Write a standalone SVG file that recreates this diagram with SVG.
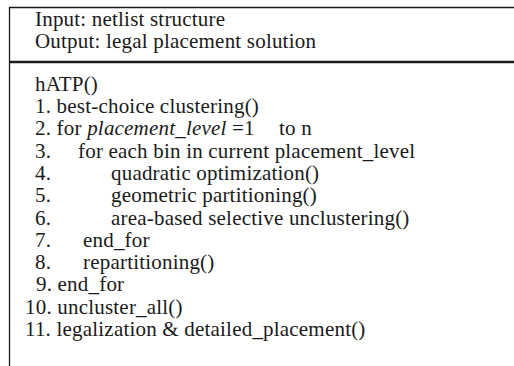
<svg xmlns="http://www.w3.org/2000/svg" width="514" height="366" viewBox="0 0 514 366">
<style>
text{font-family:"Liberation Serif","Times New Roman",serif;font-size:21px;letter-spacing:0.2px;fill:#1a1a1a}
.it{font-style:italic}
.frame{stroke:#1a1a1a;fill:none;stroke-width:1.3}
.rule{stroke:#1a1a1a;stroke-width:2.6}
</style>
<rect width="514" height="366" fill="#ffffff"/>
<g id="frame">
<path class="frame" d="M514 7.5H9.5V366"/>
<line class="rule" x1="9.5" y1="62" x2="514" y2="62"/>
</g>
<g id="header">
<text x="35" y="26">Input: netlist structure</text>
<text x="35" y="48">Output: legal placement solution</text>
</g>
<g id="body">
<text x="35" y="91">hATP()</text>
<text x="35" y="113">1. best-choice clustering()</text>
<text x="35" y="135">2. for <tspan class="it">placement_level</tspan> =1<tspan x="279">to n</tspan></text>
<text x="35" y="158">3.</text><text x="78" y="158">for each bin in current placement_level</text>
<text x="35" y="180">4.</text><text x="111" y="180">quadratic optimization()</text>
<text x="35" y="202">5.</text><text x="111" y="202">geometric partitioning()</text>
<text x="35" y="225">6.</text><text x="111" y="225">area-based selective unclustering()</text>
<text x="35" y="247">7.</text><text x="83" y="247">end_for</text>
<text x="35" y="269">8.</text><text x="83" y="269">repartitioning()</text>
<text x="36" y="291">9. end_for</text>
<text x="25" y="314">10. uncluster_all()</text>
<text x="25" y="336">11. legalization &amp; detailed_placement()</text>
</g>
</svg>
